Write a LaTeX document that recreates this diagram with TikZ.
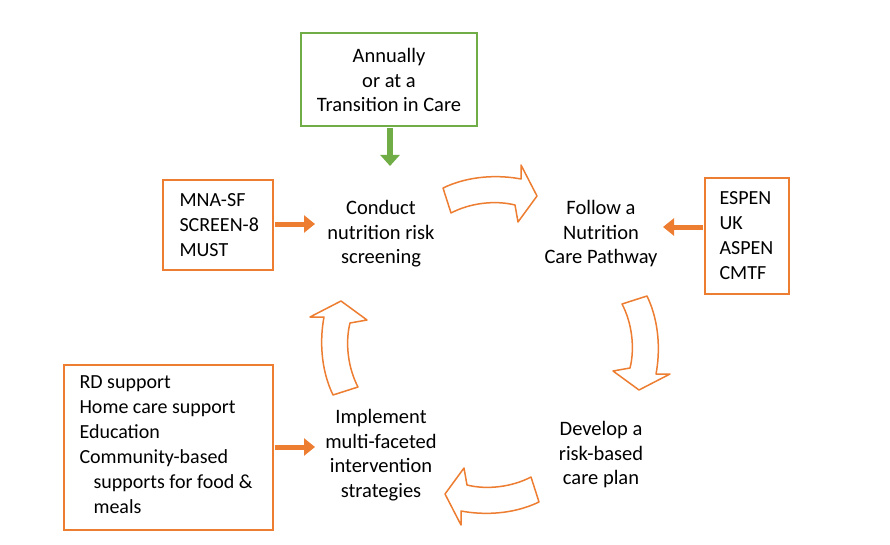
\documentclass[tikz,border=0pt]{standalone}
\usepackage{fontspec}
\setmainfont{Carlito}
\usetikzlibrary{arrows.meta}
\definecolor{cgreen}{RGB}{112,173,71}
\definecolor{corange}{RGB}{237,125,49}
\tikzset{
  stepbox/.style={draw=corange, line width=1.5pt, inner sep=0pt},
  steptext/.style={align=center, font=\fontsize{20.5}{24.5}\selectfont},
  boxtext/.style={align=left, font=\fontsize{20}{25}\selectfont},
  feed/.style={corange, line width=5pt, -{Triangle[length=11pt,width=17pt]}},
  cycarrow/.style={draw=corange, fill=white, line width=1.5pt, line join=round}
}
% hollow curved block arrow, pointing right before rotation
\newcommand{\cyclearrow}[2]{%
  \draw[cycarrow, shift={#1}, rotate=#2]
    (-47,5) .. controls (-20,18) and (10,18) .. (31,14) -- (31,28) -- (47,-3)
    -- (28,-29) -- (25,-12) .. controls (5,-7) and (-20,-10) .. (-39,-20) -- cycle;}

\begin{document}
\begin{tikzpicture}[x=1pt,y=1pt]
    \useasboundingbox (0,0) rectangle (890,-545);

    % boxes
    \draw[draw=cgreen, line width=1.5pt] (301,-33) rectangle (477,-126);
    \node[steptext] (annual) at (389,-80) {Annually\\or at a\\Transition in Care};
    \draw[stepbox] (163,-180) rectangle (273,-270);
    \node[boxtext, anchor=west] (tools) at (176,-225) {MNA-SF\\SCREEN-8\\MUST};
    \draw[stepbox] (705,-178) rectangle (789,-294);
    \node[boxtext, anchor=west] (guides) at (716,-236) {ESPEN\\UK\\ASPEN\\CMTF};
    \draw[stepbox] (64,-365) rectangle (273,-530);
    \node[boxtext, anchor=north west] (supports) at (76,-372)
      {RD support\\Home care support\\Education\\Community-based\\\hspace*{14pt}supports for food \&\\\hspace*{14pt}meals};

    % steps
    \node[steptext] (screen) at (381,-234) {Conduct\\nutrition risk\\screening};
    \node[steptext] (pathway) at (601,-234) {Follow a\\Nutrition\\Care Pathway};
    \node[steptext] (plan) at (601,-455) {Develop a\\risk-based\\care plan};
    \node[steptext] (implement) at (381,-455) {Implement\\multi-faceted\\intervention\\strategies};

    % feeding arrows
    \draw[cgreen, line width=6pt, -{Triangle[length=11pt,width=19pt]}] (390,-128) -- (390,-166);
    \draw[feed] (275,-224) -- (315,-224);
    \draw[feed] (703,-227) -- (663,-227);
    \draw[feed] (275,-447) -- (315,-447);

    % cycle
    \cyclearrow{(490,-193)}{0}
    \cyclearrow{(642,-343)}{-90}
    \cyclearrow{(492,-497)}{180}
    \cyclearrow{(338,-348)}{90}
\end{tikzpicture}
\end{document}
